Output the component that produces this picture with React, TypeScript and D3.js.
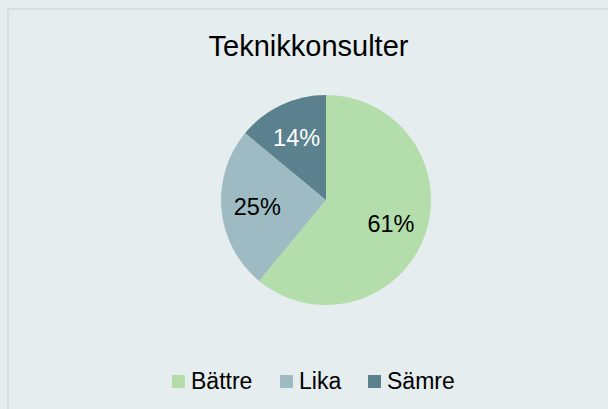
import React from "react";
import * as d3 from "d3";

const title = "Teknikkonsulter";
const categories = ["Bättre", "Lika", "Sämre"];
const values = [61, 25, 14];
const colors = ["#b3deab", "#9ebbc3", "#5a818d"];
const labelColors = ["#000000", "#000000", "#ffffff"];

const W = 608;
const H = 409;

export default function App() {
  const cx = 326;
  const cy = 200;
  const R = 105;
  const pie = d3.pie<number>().sort(null).value((d) => d)(values);
  const arc = d3.arc<d3.PieArcDatum<number>>().innerRadius(0).outerRadius(R);
  const labelArc = d3.arc<d3.PieArcDatum<number>>().innerRadius(69).outerRadius(69);
  const total = d3.sum(values);

  const legendX = [172, 280, 368];
  const font = "'Liberation Sans', Arial, sans-serif";

  return (
    <svg
      width={W}
      height={H}
      style={{ position: "absolute", left: 0, top: 0, display: "block" }}
    >
      <rect x={0} y={0} width={W} height={H} fill="#e5edef" />
      <rect x={8} y={9} width={W + 10} height={H + 10} fill="none" stroke="#d9dfdf" strokeWidth={2} />
      <text x={308.5} y={56} textAnchor="middle" fontFamily={font} fontSize={29} fill="#000">
        {title}
      </text>
      <g transform={`translate(${cx},${cy})`}>
        {pie.map((p, i) => (
          <path key={i} d={arc(p) || ""} fill={colors[i]} />
        ))}
        {pie.map((p, i) => {
          const [x, y] = labelArc.centroid(p);
          return (
            <text
              key={"l" + i}
              x={x}
              y={y}
              dy="0.35em"
              textAnchor="middle"
              fontFamily={font}
              fontSize={23.5}
              fill={labelColors[i]}
            >
              {Math.round((values[i] / total) * 100) + "%"}
            </text>
          );
        })}
      </g>
      {categories.map((c, i) => (
        <g key={c}>
          <rect x={legendX[i]} y={375} width={13} height={13} fill={colors[i]} />
          <text x={legendX[i] + 19} y={389} fontFamily={font} fontSize={23} fill="#000">
            {c}
          </text>
        </g>
      ))}
    </svg>
  );
}
